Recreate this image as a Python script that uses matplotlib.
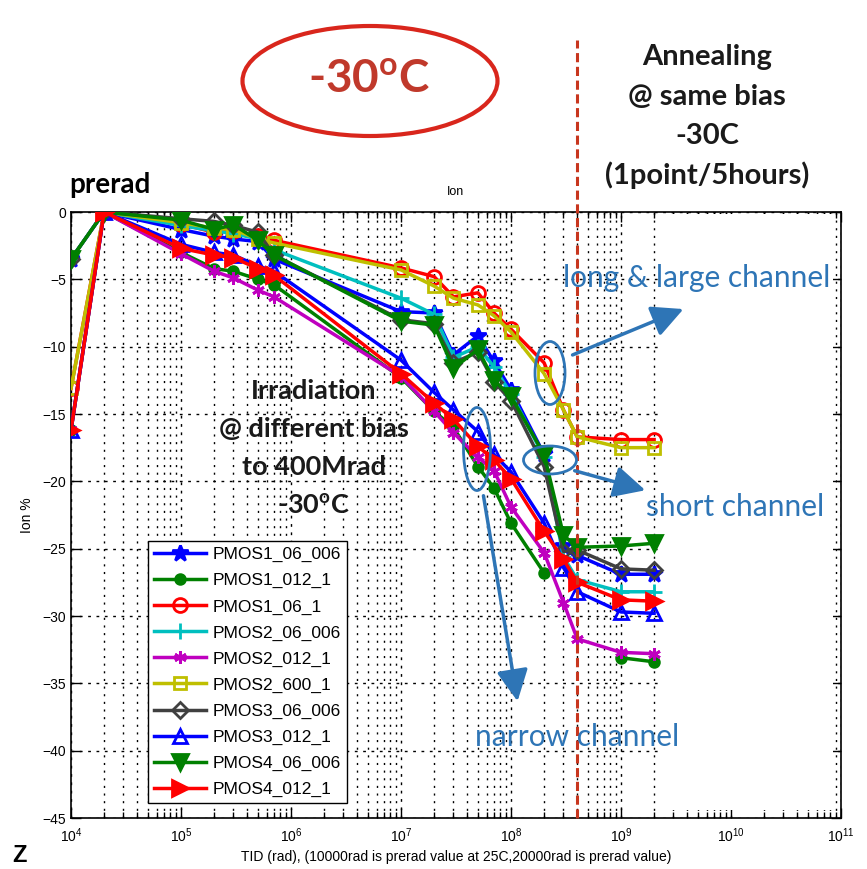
import numpy as np
import matplotlib
matplotlib.use("Agg")
import matplotlib.pyplot as plt
from matplotlib.patches import Ellipse, Rectangle, FancyArrowPatch
from matplotlib.lines import Line2D
import matplotlib.transforms as mtransforms

plt.rcParams['font.family'] = ['Liberation Sans', 'DejaVu Sans']
plt.rcParams['mathtext.fontset'] = 'custom'
plt.rcParams['mathtext.rm'] = 'Liberation Sans'

# dose points (rad): 25C prerad, -30C prerad, irradiation steps, annealing
tid = [1e4, 2e4, 1e5, 2e5, 3e5, 5e5, 7e5, 1e7, 2e7, 3e7, 5e7, 7e7,
       1e8, 2e8, 3e8, 4e8, 1e9, 2e9]

nan = np.nan
pmos1_06_006 = [-3.5, 0, -1.3, -1.8, -2.0, -2.2, -3.5, -7.4, -7.5, -10.6, -9.2, -11.1,
                -13.2, -18.0, -24.8, -25.5, -26.9, -26.9]
pmos1_012_1 = [-16.2, 0, -3.0, -4.2, -4.4, -5.0, -5.4, -12.3, -14.8, -16.0, -18.9, -20.5,
               -23.1, -26.8, nan, nan, -33.1, -33.4]
pmos1_06_1 = [-13.1, 0, -0.9, -1.5, -1.4, -1.8, -2.1, -4.15, -4.8, -6.3, -6.0, -7.5,
              -8.7, -11.2, -14.7, -16.7, -16.9, -16.9]
pmos2_06_006 = [-3.5, 0, -1.0, -1.4, -1.6, -2.0, -2.8, -6.4, -7.6, -10.8, -10.0, -11.5,
                -13.5, -18.2, -25.6, -27.3, -28.2, -28.2]
pmos2_012_1 = [-16.2, 0, -3.1, -4.4, -4.9, -5.8, -6.3, -12.2, -14.8, -16.4, -18.2, -19.2,
               -21.9, -25.3, -29.0, -31.7, -32.7, -32.8]
pmos2_600_1 = [-13.1, 0, -0.8, -1.2, -1.3, -2.0, -2.3, -4.3, -5.5, -6.4, -6.9, -7.7,
               -8.9, -12.0, -14.7, -16.7, -17.5, -17.5]
pmos3_06_006 = [-3.5, 0, -0.5, -0.7, -1.0, -1.5, -3.2, -8.0, -8.3, -11.2, -10.4, -12.6,
                -14.0, -18.9, -25.2, -25.1, -26.5, -26.6]
pmos3_012_1 = [-16.2, 0, -2.4, -3.0, -3.2, -4.0, -4.4, -11.0, -13.4, -14.7, -16.3, -18.0,
               -19.3, -23.1, -26.4, -28.2, -29.7, -29.8]
pmos4_06_006 = [-3.5, 0, -0.6, -1.3, -0.95, -2.1, -3.2, -8.1, -8.4, -11.6, -10.2, -12.5,
                -13.7, -18.0, -24.0, -24.9, -24.8, -24.6]
pmos4_012_1 = [-16.2, 0, -2.7, -3.2, -3.4, -4.2, -4.7, -12.0, -14.2, -15.4, -17.4, -18.4,
               -19.8, -23.7, -25.8, -27.5, -28.8, -28.9]

labels = ['PMOS1_06_006', 'PMOS1_012_1', 'PMOS1_06_1', 'PMOS2_06_006', 'PMOS2_012_1',
          'PMOS2_600_1', 'PMOS3_06_006', 'PMOS3_012_1', 'PMOS4_06_006', 'PMOS4_012_1']
series = [pmos1_06_006, pmos1_012_1, pmos1_06_1, pmos2_06_006, pmos2_012_1,
          pmos2_600_1, pmos3_06_006, pmos3_012_1, pmos4_06_006, pmos4_012_1]

styles = [
    dict(color=(0, 0, 1), marker='*', ms=12, mfc=(0, 0, 1)),
    dict(color=(0, 0.5, 0), marker='o', ms=7, mfc=(0, 0.5, 0)),
    dict(color=(1, 0, 0), marker='o', ms=10, mfc='none'),
    dict(color=(0, 0.75, 0.75), marker='+', ms=12, mfc='none'),
    dict(color=(0.75, 0, 0.75), marker=(6, 2, 0), ms=9, mfc='none'),
    dict(color=(0.75, 0.75, 0), marker='s', ms=9, mfc='none'),
    dict(color=(0.25, 0.25, 0.25), marker='D', ms=8, mfc='none'),
    dict(color=(0, 0, 1), marker='^', ms=10, mfc='none'),
    dict(color=(0, 0.5, 0), marker='v', ms=11, mfc=(0, 0.5, 0)),
    dict(color=(1, 0, 0), marker='>', ms=11, mfc=(1, 0, 0)),
]

fig = plt.figure(figsize=(8.67, 8.69), dpi=100)
ax = fig.add_axes([71 / 867, 1 - 818 / 869, 770 / 867, 606 / 869])

handles = []
for y, lab, st in zip(series, labels, styles):
    h, = ax.plot(tid, y, '-', lw=2.5, color=st['color'], marker=st['marker'],
                 ms=st['ms'], mfc=st['mfc'], mec=st['color'], mew=2, label=lab, zorder=3)
    handles.append(h)

ax.set_xscale('log')
ax.set_xlim(1e4, 1e11)
ax.set_ylim(-45, 0)
ax.set_yticks(np.arange(-45, 1, 5))
ax.set_xticks([10.0 ** k for k in range(4, 12)])
ax.set_xticklabels([r'$10^{%d}$' % k for k in range(4, 12)])
ax.tick_params(which='both', direction='in', top=True, right=True, labelsize=10)
ax.tick_params(which='major', length=7, width=1)
ax.tick_params(which='minor', length=4, width=1)
ax.tick_params(axis='x', pad=6)

ax.grid(True, which='major', color='black', linestyle=(0, (2, 4)), linewidth=1.0)
ax.grid(True, which='minor', axis='x', color='black', linestyle=(0, (1.5, 4)), linewidth=1.0)
for s in ax.spines.values():
    s.set_linewidth(1.2)

# blank panel over the annealing side of the grid
fx0 = (660 - 71) / 770
fx1 = (833 - 71) / 770
fy0 = (818 - 810) / 606
fy1 = (818 - 214) / 606
ax.add_patch(Rectangle((fx0, fy0), fx1 - fx0, fy1 - fy0, transform=ax.transAxes,
                       facecolor='white', edgecolor='none', zorder=2.7))

ax.set_title('Ion', fontsize=9, pad=12)
ax.set_xlabel('TID (rad), (10000rad is prerad value at 25C,20000rad is prerad value)',
              fontsize=10, labelpad=4)
ax.set_ylabel('Ion %', fontsize=10, labelpad=6)

leg = ax.legend(handles=handles, loc='upper left', bbox_to_anchor=(0.1, 0.457),
                fontsize=12.5, handlelength=3.0, labelspacing=0.62, borderpad=0.35,
                handletextpad=0.35, fancybox=False, framealpha=1, edgecolor='black',
                borderaxespad=0)
leg.get_frame().set_linewidth(1.0)
leg.set_zorder(5)

# end of irradiation at 400 Mrad
trans = mtransforms.blended_transform_factory(ax.transData, fig.transFigure)
ax.add_line(Line2D([4e8, 4e8], [1 - 818 / 869, 1 - 40 / 869], transform=trans,
                   color='#C8361E', lw=2.2, linestyle=(0, (3, 1.5)), clip_on=False, zorder=4))

# annotations
fc = fig.transFigure
def fx(px):
    return px / 867
def fy(py):
    return 1 - py / 869

blue = '#2E75B6'
sans = ['Lato', 'DejaVu Sans']
fig.patches.append(Ellipse((fx(370), fy(81)), 255 / 867, 110 / 869, transform=fc,
                           facecolor='none', edgecolor='#D9261C', lw=3))
fig.text(fx(369), fy(80), r'-30$^\mathregular{o}$C', ha='center', va='center', fontsize=33,
         fontweight='bold', color='#C0392B', family=sans)
fig.text(fx(69), fy(185), 'prerad', ha='left', va='center', fontsize=20,
         fontweight='bold', color='black', family=sans)

for txt, py in zip(['Annealing', '@ same bias', '-30C', '(1point/5hours)'], [57, 97, 136, 175]):
    fig.text(fx(707), fy(py), txt, ha='center', va='center', fontsize=21,
             fontweight='bold', color='#1a1a1a', family=sans)

for txt, py in zip(['Irradiation', '@ different bias', 'to 400Mrad', r'-30$^\mathregular{o}$C'],
                   [391, 429, 467, 505]):
    fig.text(fx(314), fy(py), txt, ha='center', va='center', fontsize=19.5,
             fontweight='bold', color='#1a1a1a', family=sans)

fig.text(fx(563), fy(278), 'long & large channel', ha='left', va='center', fontsize=21.5,
         color=blue, family=sans, zorder=6)
fig.text(fx(646), fy(507), 'short channel', ha='left', va='center', fontsize=21.5,
         color=blue, family=sans, zorder=6)
fig.text(fx(475), fy(737), 'narrow channel', ha='left', va='center', fontsize=21.5,
         color=blue, family=sans, zorder=6)

for (cx, cy, w, h) in [(550, 373, 30, 63), (477, 449, 27, 83), (550, 460, 53, 28)]:
    fig.patches.append(Ellipse((fx(cx), fy(cy)), w / 867, h / 869, transform=fc,
                               facecolor='none', edgecolor=blue, lw=2, zorder=6))

for (x0, y0, x1, y1) in [(570, 356, 686, 308), (572, 470, 648, 491), (483, 493, 518, 704)]:
    fig.patches.append(FancyArrowPatch((fx(x0), fy(y0)), (fx(x1), fy(y1)), transform=fc,
                                       arrowstyle='-|>,head_length=12,head_width=6',
                                       mutation_scale=1.6, color=blue, lw=2.5, zorder=6))

fig.text(fx(12), fy(867), 'Z', ha='left', va='bottom', fontsize=17, fontweight='bold',
         color='black')

fig.savefig('out.png', dpi=100)
